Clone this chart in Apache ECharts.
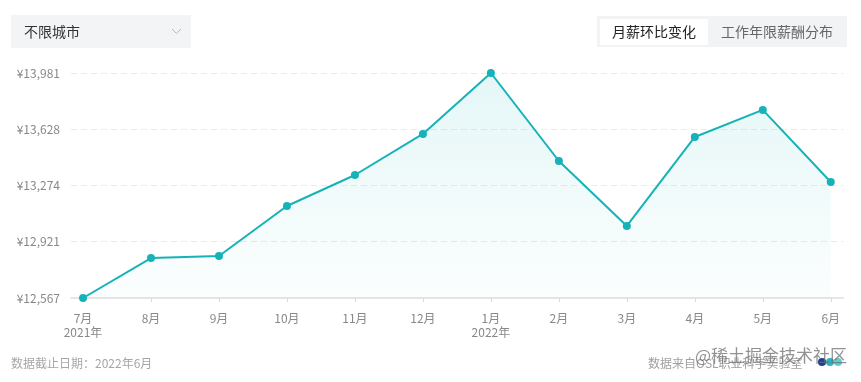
<!DOCTYPE html>
<html>
<head>
<meta charset="utf-8">
<script src="https://cdn.jsdelivr.net/npm/echarts@6/dist/echarts.min.js"></script>
<style>
html,body{margin:0;padding:0;background:#fff;}
#c{width:861px;height:382px;}
</style>
</head>
<body>
<div id="c"></div>
<script>
const months = ['7月','8月','9月','10月','11月','12月','1月','2月','3月','4月','5月','6月'];
const yearMarks = {0:'2021年', 6:'2022年'};
const salary = [12567, 12818, 12831, 13145, 13340, 13598, 13981, 13428, 13020, 13579, 13749, 13296];
const yTicks = [12567, 12921, 13274, 13628, 13981];
const xIdx = months.map((m, i) => i);

const FONT = '"Noto Sans CJK SC", "Noto Sans", sans-serif';
const chart = echarts.init(document.getElementById('c'), null, {renderer: 'canvas'});
chart.setOption({
  animation: false,
  backgroundColor: '#fff',
  textStyle: {fontFamily: FONT},
  grid: {left: 71, right: 18, top: 73, bottom: 84},
  xAxis: {
    type: 'value',
    min: -0.177,
    max: 11.18,
    axisLine: {show: true, lineStyle: {color: '#e6e6e6', width: 2}},
    axisTick: {show: true, length: 4, lineStyle: {color: '#dcdcdc'}, customValues: xIdx},
    splitLine: {show: false},
    axisLabel: {
      customValues: xIdx,
      margin: 13,
      color: '#888',
      fontSize: 12,
      lineHeight: 14,
      fontFamily: FONT,
      formatter: v => {
        const i = Math.round(v);
        return months[i] + (yearMarks[i] ? '\n' + yearMarks[i] : '');
      }
    }
  },
  yAxis: {
    type: 'value',
    min: yTicks[0],
    max: yTicks[yTicks.length - 1],
    axisLine: {show: false},
    axisTick: {show: false, customValues: yTicks},
    splitLine: {show: true, lineStyle: {color: '#ebebeb', type: [6, 4]}},
    axisLabel: {
      customValues: yTicks,
      margin: 11,
      color: '#888',
      fontSize: 12,
      fontFamily: FONT,
      formatter: v => '¥' + Math.round(v).toLocaleString('en-US')
    }
  },
  series: [{
    type: 'line',
    data: salary.map((v, i) => [i, v]),
    symbol: 'circle',
    symbolSize: 8,
    lineStyle: {color: '#15b3b8', width: 2},
    itemStyle: {color: '#15b3b8'},
    areaStyle: {
      color: new echarts.graphic.LinearGradient(0, 0, 0, 1, [
        {offset: 0, color: 'rgba(23,180,184,0.16)'},
        {offset: 1, color: 'rgba(23,180,184,0.02)'}
      ])
    }
  }],
  graphic: [
    {type: 'rect', shape: {x: 11, y: 15, width: 180, height: 33}, style: {fill: '#f3f4f6'}},
    {type: 'text', x: 24, y: 32, style: {text: '不限城市', fill: '#333', font: '14px ' + FONT, textVerticalAlign: 'middle'}},
    {type: 'polyline', shape: {points: [[172, 29], [176.5, 33.5], [181, 29]]}, style: {stroke: '#b8b8b8', lineWidth: 1, fill: null}},
    {type: 'rect', shape: {x: 597, y: 16, width: 250, height: 31}, style: {fill: '#f2f3f5'}},
    {type: 'rect', shape: {x: 600, y: 19, width: 108, height: 26}, style: {fill: '#fff'}},
    {type: 'text', x: 654, y: 32, style: {text: '月薪环比变化', fill: '#222', font: '14px ' + FONT, textAlign: 'center', textVerticalAlign: 'middle'}},
    {type: 'text', x: 777, y: 32, style: {text: '工作年限薪酬分布', fill: '#666', font: '14px ' + FONT, textAlign: 'center', textVerticalAlign: 'middle'}},
    {type: 'text', x: 11, y: 363, style: {text: '数据截止日期：2022年6月', fill: '#a6a6a6', font: '12px ' + FONT, textVerticalAlign: 'middle'}},
    {type: 'text', x: 648, y: 363, style: {text: '数据来自OSL职业科学实验室', fill: '#a0a0a0', font: '12px ' + FONT, textVerticalAlign: 'middle'}},
    {type: 'circle', shape: {cx: 822, cy: 362, r: 4}, style: {fill: '#1f3f8f'}},
    {type: 'circle', shape: {cx: 830, cy: 362, r: 4}, style: {fill: '#2bb3c0'}},
    {type: 'circle', shape: {cx: 838, cy: 362, r: 4}, style: {fill: '#5fd0d0'}},
    {type: 'text', x: 847, y: 356, style: {text: '@稀土掘金技术社区', fill: 'rgba(110,110,110,0.75)', font: '17px ' + FONT, textAlign: 'right', textVerticalAlign: 'middle'}}
  ]
});
</script>
</body>
</html>
